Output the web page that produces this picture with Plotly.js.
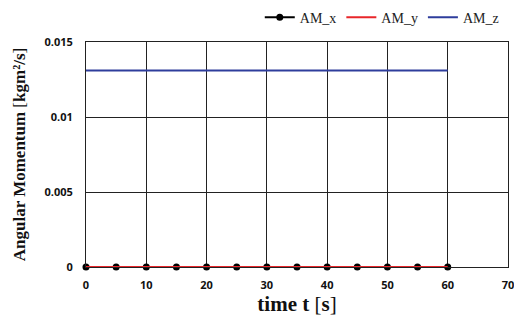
<!DOCTYPE html>
<html><head><meta charset="utf-8">
<script src="https://cdn.plot.ly/plotly-3.0.1.min.js"></script>
<style>html,body{margin:0;padding:0;background:#fff}#c{width:514px;height:325px}</style>
</head><body><div id="c"></div>
<script>
const timeS = [0,5,10,15,20,25,30,35,40,45,50,55,60];
const amX = [0,0,0,0,0,0,0,0,0,0,0,0,0];
const amY = [0,0,0,0,0,0,0,0,0,0,0,0,0];
const amZ = [0.0131,0.0131,0.0131,0.0131,0.0131,0.0131,0.0131,0.0131,0.0131,0.0131,0.0131,0.0131,0.0131];
const seriesNames = ['AM_x','AM_y','AM_z'];
const yTickVals = [0,0.005,0.01,0.015];
const yTickText = ['0','0.005','0.01','0.015'];
const xTickVals = [0,10,20,30,40,50,60,70];

const serif = 'Liberation Serif, DejaVu Serif, serif';
const tickFont = {family:'Open Sans, Liberation Sans, sans-serif', size:11, color:'#111', weight:700};

const traces = [
  {x:timeS, y:amX, name:seriesNames[0], mode:'lines+markers', cliponaxis:false, line:{color:'#000000', width:2}, marker:{color:'#000000', size:7}},
  {x:timeS, y:amY, name:seriesNames[1], mode:'lines', cliponaxis:false, line:{color:'#e8262a', width:2}},
  {x:timeS, y:amZ, name:seriesNames[2], mode:'lines', cliponaxis:false, line:{color:'#2e3d9c', width:2}}
];
const layout = {
  width:514, height:325,
  margin:{l:86, r:6, t:42, b:58},
  paper_bgcolor:'#fff', plot_bgcolor:'#fff',
  showlegend:true,
  legend:{orientation:'h', x:0.99, xanchor:'right', y:0.995, yanchor:'top', yref:'container', font:{family:serif, size:14, color:'#222'}, bgcolor:'rgba(0,0,0,0)', itemwidth:30},
  xaxis:{range:[0,70], tickvals:xTickVals, ticks:'', ticklabelstandoff:8, ticklabeloverflow:'allow', showgrid:true, gridcolor:'#222', gridwidth:1,
    showline:true, linecolor:'#222', linewidth:1, mirror:true, zeroline:false, tickfont:tickFont,
    title:{text:'<b>time t</b> [<b>s</b>]', font:{family:serif, size:21, color:'#111'}, standoff:3}},
  yaxis:{range:[0,0.015], tickvals:yTickVals, ticktext:yTickText, ticks:'', ticklabelstandoff:10, showgrid:true, gridcolor:'#222', gridwidth:1,
    showline:true, linecolor:'#222', linewidth:1, mirror:true, zeroline:false, tickfont:tickFont,
    title:{text:'<b>Angular Momentum</b> [<b>kgm²/s</b>]', font:{family:serif, size:17, color:'#111'}, standoff:14}}
};
Plotly.newPlot('c', traces, layout, {displayModeBar:false, staticPlot:true});
</script></body></html>
